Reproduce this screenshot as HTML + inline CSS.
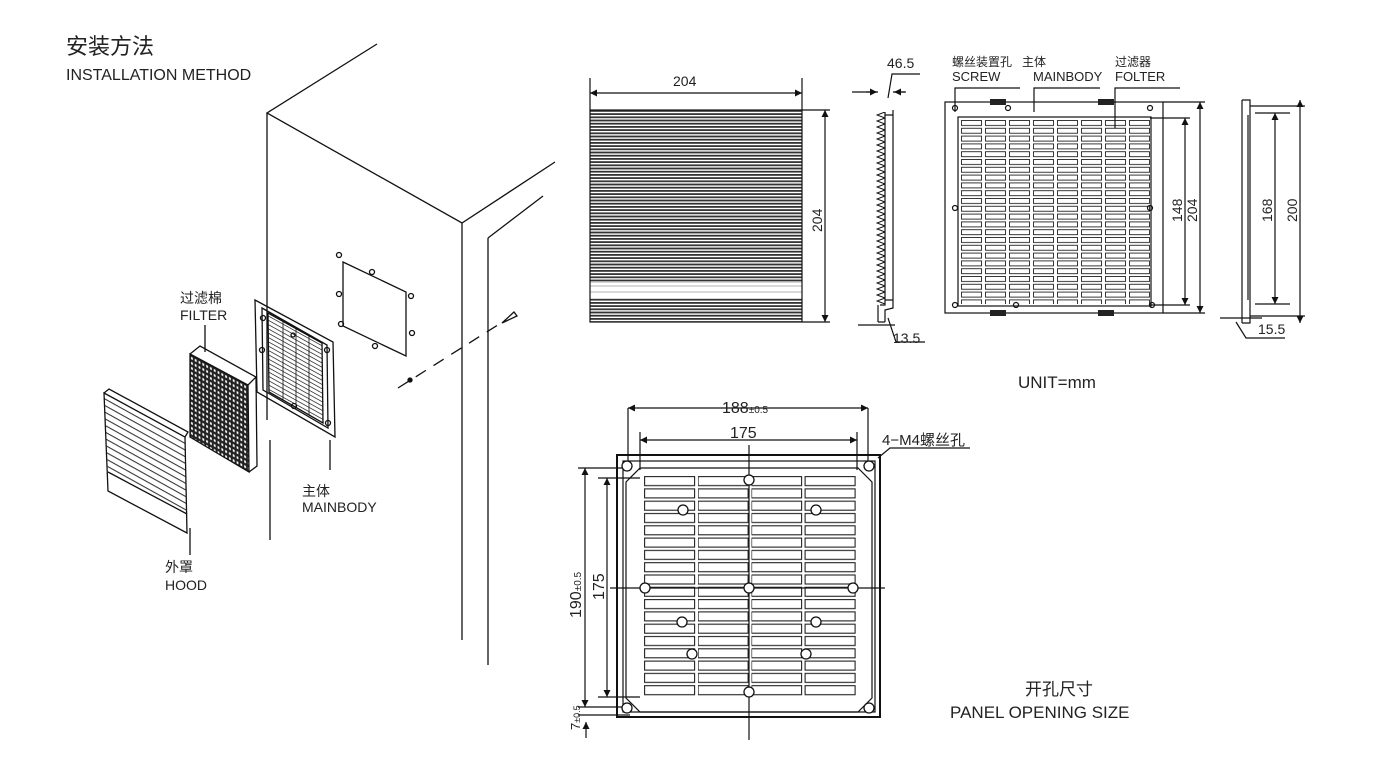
<!DOCTYPE html>
<html><head><meta charset="utf-8"><style>
html,body{margin:0;padding:0;background:#fff;}
svg{display:block;font-family:"Liberation Sans","Noto Sans CJK SC",sans-serif;}
</style></head><body>
<svg width="1400" height="757" viewBox="0 0 1400 757" xmlns="http://www.w3.org/2000/svg">
<defs>
<marker id="a" viewBox="0 0 10 10" refX="10" refY="5" markerWidth="9" markerHeight="7" orient="auto-start-reverse" markerUnits="userSpaceOnUse"><path d="M0,0L10,5L0,10z" fill="#111"/></marker>
<pattern id="hl" patternUnits="userSpaceOnUse" x="0" y="110" width="10" height="3.2"><rect x="0" y="0" width="10" height="1.8" fill="#333"/></pattern>
<pattern id="mg" patternUnits="userSpaceOnUse" x="961" y="120" width="24" height="7.8"><rect x="0.5" y="0.5" width="20" height="5" fill="none" stroke="#222" stroke-width="0.9"/></pattern>
<pattern id="pg" patternUnits="userSpaceOnUse" x="644" y="476" width="53.5" height="12.3"><rect x="0.6" y="0.6" width="50" height="9" fill="none" stroke="#222" stroke-width="1.1"/></pattern>
<pattern id="zz" patternUnits="userSpaceOnUse" x="876" y="112" width="10" height="6"><path d="M9,0 L1,3 L9,6" fill="none" stroke="#111" stroke-width="1"/></pattern>
<pattern id="fd" patternUnits="userSpaceOnUse" x="190" y="354" width="3.8" height="5" patternTransform="skewY(28)"><rect x="0" y="0" width="3.8" height="5" fill="#222"/><rect x="1" y="1.2" width="1.8" height="2.4" fill="#fff"/></pattern>
<pattern id="hv" patternUnits="userSpaceOnUse" x="104" y="393" width="10" height="6.6" patternTransform="skewY(29)"><rect x="0" y="0" width="10" height="1.2" fill="#333"/></pattern>
<pattern id="mv" patternUnits="userSpaceOnUse" x="268" y="313" width="10" height="4.3" patternTransform="skewY(29)"><rect x="0" y="0" width="10" height="0.9" fill="#333"/></pattern>
</defs>
<g fill="#222">
<text x="66" y="54" font-size="22">安装方法</text>
<text x="66" y="80" font-size="16">INSTALLATION METHOD</text>
</g>
<path d="M268,313 L322,343 L323,423 L269,392 Z" fill="url(#mv)"/>
<path d="M190,354 L248,385 L249,472 L190,437 Z" fill="url(#fd)"/>
<path d="M104,393 L185,437 L186,514 L108,472 Z" fill="url(#hv)"/>
<g stroke="#111" fill="none" stroke-width="1.3">
<path d="M377,44 L267,113 L462,223 L555,162"/>
<path d="M267,113 V420"/>
<path d="M270,440 V540"/>
<path d="M462,223 V640"/>
<path d="M488,238 L543,196"/>
<path d="M488,238 V665"/>
<path d="M343,262 L406,292 L406,356 L343,326 Z"/>
<circle cx="339" cy="255" r="2.5"/><circle cx="372" cy="272" r="2.5"/>
<circle cx="339" cy="294" r="2.5"/><circle cx="411" cy="296" r="2.5"/>
<circle cx="341" cy="324" r="2.5"/><circle cx="412" cy="333" r="2.5"/>
<circle cx="375" cy="346" r="2.5"/>
<path d="M398,388 L512,316" stroke-dasharray="12,9"/>
<circle cx="410" cy="380" r="2" fill="#111"/>
<path d="M502,323 L514,312 L517,316 Z" fill="#fff"/>
<path d="M255,300 L333,342 L335,437 L257,392 Z"/>
<path d="M262,308 L327,345 L328,428 L263,390 Z"/>
<path d="M268,313 L322,343 L323,423 L269,392 Z"/>
<path d="M283,321 V400 M296,328 V408 M309,335 V415" stroke-width="0.8"/>
<circle cx="263" cy="318" r="2.5"/><circle cx="262" cy="350" r="2.5"/><circle cx="327" cy="350" r="2.5"/><circle cx="328" cy="423" r="2.5"/><circle cx="294" cy="406" r="2.5"/><circle cx="293" cy="335" r="2"/>
<path d="M330,440 V470"/>
<path d="M190,354 L248,385 L249,472 L190,437 Z"/>
<path d="M190,354 L200,346 L256,377 L248,385 M256,377 L257,466 L249,472"/>
<path d="M104,393 L185,437 L187,533 L108,491 Z"/>
<path d="M108,472 L187,514 M104,393 L109,389 L188,432 L185,437"/>
<path d="M190,528 V555"/>
<path d="M205,325 V352"/>
</g>
<g fill="#222" font-size="14">
<text x="180" y="303">过滤棉</text><text x="180" y="320">FILTER</text>
<text x="302" y="496">主体</text><text x="302" y="512">MAINBODY</text>
<text x="165" y="572">外罩</text><text x="165" y="590">HOOD</text>
</g>
<rect x="590" y="110" width="212" height="212" fill="url(#hl)"/>
<rect x="590" y="283" width="212" height="15" fill="#fff"/>
<path d="M590,286 H802 M590,292 H802" stroke="#666" stroke-width="0.6"/>
<rect x="876" y="112" width="10" height="192" fill="url(#zz)"/>
<rect x="961" y="120" width="190" height="184" fill="url(#mg)"/>
<rect x="644" y="476" width="214" height="220" fill="url(#pg)"/>
<g stroke="#111" fill="none" stroke-width="1.2">
<rect x="590" y="110" width="212" height="212"/>
<path d="M590,78 V110 M802,78 V110"/>
<path d="M590,93 H802" marker-start="url(#a)" marker-end="url(#a)"/>
<path d="M802,110 H830 M802,322 H830"/>
<path d="M825,110 V322" marker-start="url(#a)" marker-end="url(#a)"/>
<path d="M885,112 V305 L880,305 M893,110 V308 L885,310 V322 M878,305 V322 M885,322 H878 M885,115 H893 M885,300 H893"/>
<path d="M852,92 H878 M893,92 H905 M888,98 L892,74 H920"/>
<path d="M866,92 H877" marker-end="url(#a)"/><path d="M906,92 H894" marker-end="url(#a)"/>
<path d="M858,325 H895 M888,318 L896,342 H925"/>
<rect x="945" y="102" width="218" height="211"/>
<rect x="958" y="117" width="193" height="189"/>
<path d="M1163,102 H1205 M1163,313 H1205 M1150,118 H1190 M1150,305 H1190"/>
<path d="M1200,102 V313" marker-start="url(#a)" marker-end="url(#a)"/>
<path d="M1185,118 V305" marker-start="url(#a)" marker-end="url(#a)"/>
<path d="M955,112 V88 H1020 M1034,112 V88 H1100 M1115,128 V88 H1180"/>
<circle cx="955" cy="108" r="2.5"/><circle cx="1008" cy="108" r="2.5"/><circle cx="1150" cy="108" r="2.5"/><circle cx="955" cy="208" r="2.5"/><circle cx="1150" cy="208" r="2.5"/><circle cx="955" cy="305" r="2.5"/><circle cx="1016" cy="305" r="2.5"/><circle cx="1152" cy="305" r="2.5"/>
<path d="M1242,100 V323 M1242,100 H1250 V323 H1242 M1250,106 H1305 M1250,316 H1305 M1255,113 H1290 M1255,304 H1290 M1248,115 V300"/>
<path d="M1300,100 V323" marker-start="url(#a)" marker-end="url(#a)"/>
<path d="M1275,113 V304" marker-start="url(#a)" marker-end="url(#a)"/>
<path d="M1220,318 H1262 M1236,322 L1246,338 H1285"/>
<rect x="617" y="455" width="263" height="262" stroke-width="2"/>
<rect x="623" y="461" width="252" height="251"/>
<path d="M640,468 H858 L872,482 V698 L858,712 H640 L626,698 V482 Z"/>
<path d="M628,408 V470 M868,408 V470 M640,432 V470 M857,432 V470"/>
<path d="M628,408 H868" marker-start="url(#a)" marker-end="url(#a)"/>
<path d="M640,440 H857" marker-start="url(#a)" marker-end="url(#a)"/>
<path d="M749,445 V740 M610,588 H885"/>
<path d="M578,468 H630 M598,478 H640 M598,697 H640 M578,707 H630 M578,715 H630"/>
<path d="M585,468 V707" marker-start="url(#a)" marker-end="url(#a)"/>
<path d="M607,478 V697" marker-start="url(#a)" marker-end="url(#a)"/>
<path d="M586,722 V738" marker-start="url(#a)"/>
<path d="M878,458 L890,448 H970"/>
</g>
<g fill="#222">
<rect x="990" y="99" width="16" height="6"/><rect x="1098" y="99" width="16" height="6"/><rect x="990" y="310" width="16" height="6"/><rect x="1098" y="310" width="16" height="6"/>
</g>
<g fill="#fff" stroke="#111" stroke-width="1.3">
<circle cx="627" cy="466" r="5"/><circle cx="869" cy="466" r="5"/><circle cx="627" cy="708" r="5"/><circle cx="869" cy="708" r="5"/>
<circle cx="749" cy="480" r="5"/><circle cx="645" cy="588" r="5"/><circle cx="749" cy="588" r="5"/><circle cx="853" cy="588" r="5"/><circle cx="749" cy="692" r="5"/>
<circle cx="683" cy="510" r="5"/><circle cx="816" cy="510" r="5"/><circle cx="682" cy="622" r="5"/><circle cx="816" cy="622" r="5"/><circle cx="692" cy="654" r="5"/><circle cx="806" cy="654" r="5"/>
</g>
<g fill="#222" font-size="14">
<text x="673" y="86">204</text>
<text transform="translate(822,232) rotate(-90)">204</text>
<text x="887" y="68">46.5</text><text x="893" y="343">13.5</text>
<text x="952" y="66" font-size="12">螺丝装置孔</text><text x="1022" y="66" font-size="12">主体</text><text x="1115" y="66" font-size="12">过滤器</text>
<text x="952" y="81" font-size="13">SCREW</text><text x="1033" y="81" font-size="13">MAINBODY</text><text x="1115" y="81" font-size="13">FOLTER</text>
<text transform="translate(1182,222) rotate(-90)">148</text>
<text transform="translate(1197,222) rotate(-90)">204</text>
<text transform="translate(1272,222) rotate(-90)">168</text>
<text transform="translate(1297,222) rotate(-90)">200</text>
<text x="1258" y="334">15.5</text>
<text x="1018" y="388" font-size="17">UNIT=mm</text>
<text x="722" y="413" font-size="16">188<tspan font-size="10">±0.5</tspan></text>
<text x="730" y="438" font-size="16">175</text>
<text x="882" y="445" font-size="15">4−M4螺丝孔</text>
<text transform="translate(581,618) rotate(-90)" font-size="16">190<tspan font-size="10">±0.5</tspan></text>
<text transform="translate(604,600) rotate(-90)" font-size="16">175</text>
<text transform="translate(580,730) rotate(-90)" font-size="13">7<tspan font-size="9">±0.5</tspan></text>
<text x="1025" y="695" font-size="17">开孔尺寸</text>
<text x="950" y="718" font-size="17">PANEL OPENING SIZE</text>
</g>
</svg>
</body></html>
